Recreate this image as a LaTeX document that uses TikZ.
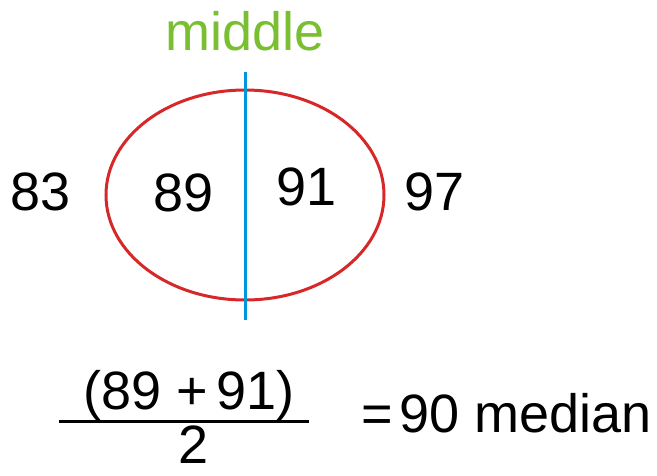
\documentclass[tikz,border=0pt]{standalone}
\usepackage{fontspec}
\setmainfont{Liberation Sans}
\usetikzlibrary{positioning}
\definecolor{ringred}{RGB}{214, 40, 40}
\definecolor{splitblue}{RGB}{0, 150, 220}
\definecolor{midgreen}{RGB}{122, 190, 50}
\begin{document}
\begin{tikzpicture}[x=1pt, y=-1pt,
  num/.style={inner sep=0pt, anchor=base, font=\fontsize{54}{60}\selectfont}
]
  \useasboundingbox (0,0) rectangle (657,475);
  % ellipse and split line
  \draw[ringred, line width=3pt] (245,195) ellipse [x radius=139, y radius=105];
  \coordinate (splittop) at (245,72);
  \coordinate (splitbot) at (245,320);
  \draw[splitblue, line width=3pt] (splittop) -- (splitbot);
  \node[num, text=midgreen] (middle) at (245,50) {middle};
  % the values
  \node[num] (v83) at (41,210) {83};
  \node[num] (v89) at (184,211) {89};
  \node[num] (v91) at (307,205) {91};
  \node[num] (v97) at (435,210) {97};
  % the fraction
  \node[num] (numer) at (189,409) {(89 +\,91)};
  \coordinate (fracl) at (59,421);
  \coordinate (fracr) at (309,421);
  \draw[line width=3pt] (fracl) -- (fracr);
  \node[num] (denom) at (194,463) {2};
  \node[num, anchor=base west] (result) at (361,432) {=\hspace{7pt}90 median};
\end{tikzpicture}
\end{document}
